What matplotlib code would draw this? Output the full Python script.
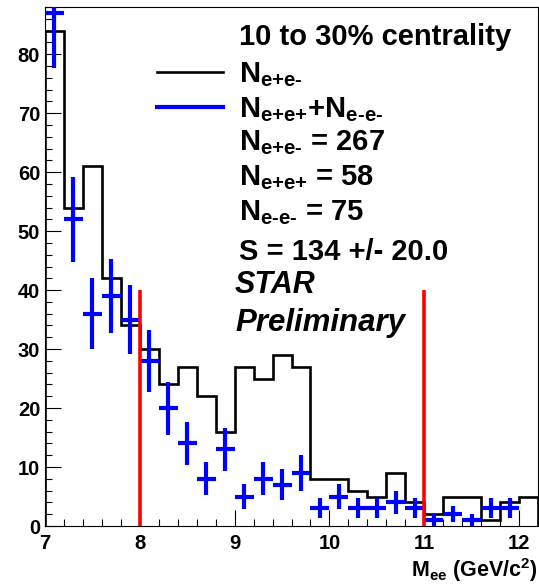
import matplotlib.pyplot as plt
import matplotlib.ticker as ticker
from matplotlib.lines import Line2D
import numpy as np

plt.rcParams['font.family'] = ['Liberation Sans', 'DejaVu Sans']
plt.rcParams['font.weight'] = 'bold'
plt.rcParams['axes.labelweight'] = 'bold'
plt.rcParams['mathtext.fontset'] = 'custom'
plt.rcParams['mathtext.rm'] = 'Liberation Sans:bold'
plt.rcParams['mathtext.bf'] = 'Liberation Sans:bold'
plt.rcParams['mathtext.it'] = 'Liberation Sans:bold:italic'
plt.rcParams['mathtext.default'] = 'rm'

# binning (0.2 GeV bins from 7.0 to 12.2)
bin_edges = np.round(np.arange(7.0, 12.21, 0.2), 1)
bin_centers = (bin_edges[:-1] + bin_edges[1:]) / 2

# unlike-sign pairs N(e+e-)
opp_sign = [84, 54, 61, 42, 34, 30, 24, 27, 22, 16, 27, 25, 29, 27, 8,
            8, 6, 5, 9, 4, 2, 5, 5, 1, 4, 5]
# like-sign pairs N(e+e+) + N(e-e-), last bin empty
like_sign = [87, 52, 36, 39, 35, 28, 20, 14, 8, 13, 5, 8, 7, 9, 3,
             5, 3, 3, 4, 3, 1, 2, 1, 3, 3]
like_err = [9.3, 7.2, 6.0, 6.2, 5.9, 5.3, 4.5, 3.7, 2.8, 3.6, 2.2, 2.8, 2.6, 3.0, 1.7,
            2.2, 1.7, 1.7, 2.0, 1.7, 1.0, 1.4, 1.0, 1.7, 1.7]

# mass window used for the signal count
cut_edges = [8.0, 11.0]
cut_height = 40

header = '10 to 30% centrality'
info_lines = [r'N$_{\text{e+e-}}$ = 267',
              r'N$_{\text{e+e+}}$ = 58',
              r'N$_{\text{e-e-}}$ = 75',
              'S = 134 +/- 20.0']

fig = plt.figure(figsize=(5.39, 5.87), dpi=100)
ax = fig.add_axes([45 / 539, 61 / 587, 493 / 539, 519 / 587])

ax.stairs(opp_sign, bin_edges, color='black', lw=1.9, zorder=2)
n_like = len(like_sign)
ax.errorbar(bin_centers[:n_like], like_sign,
            xerr=(bin_edges[1] - bin_edges[0]) / 2, yerr=like_err,
            fmt='none', ecolor='#0000ff', elinewidth=3, capsize=0, zorder=3)
ax.vlines(cut_edges, 0, cut_height, colors='#ff0000', lw=2.6, zorder=4)

ax.set_xlim(7, 12.2)
ax.set_ylim(0, 88)

ax.xaxis.set_major_locator(ticker.MultipleLocator(1))
ax.xaxis.set_minor_locator(ticker.MultipleLocator(0.2))
ax.yaxis.set_major_locator(ticker.MultipleLocator(10))
ax.yaxis.set_minor_locator(ticker.MultipleLocator(2))
ax.tick_params(which='both', direction='in', top=False, right=False,
               width=0.8, labelsize=14.5)
ax.tick_params(which='major', length=11.5)
ax.tick_params(which='minor', length=5)
ax.tick_params(axis='x', pad=6)
ax.tick_params(axis='y', pad=3.5)
for lab in ax.get_xticklabels() + ax.get_yticklabels():
    lab.set_fontweight('bold')
for sp in ax.spines.values():
    sp.set_linewidth(0.8)

ax.set_xlabel(r'M$_{\text{ee}}$ (GeV/c$^{\text{2}}$)', fontsize=15.5, ha='right',
              fontweight='bold')
ax.xaxis.set_label_coords(1.0, -0.058)

# legend with the two line keys
handles = [Line2D([], [], color='black', lw=1.9),
           Line2D([], [], color='#0000ff', lw=3)]
labels = [r'N$_{\text{e+e-}}$', r'N$_{\text{e+e+}}$+N$_{\text{e-e-}}$']
ax.legend(handles, labels, loc='upper left', bbox_to_anchor=(0.227, 0.897),
          frameon=False, fontsize=21, handlelength=2.26, handletextpad=0.55,
          borderpad=0, borderaxespad=0, labelspacing=0.2)

ax.text(0.3935, 0.9268, header, transform=ax.transAxes, fontsize=21,
        va='baseline', ha='left')
for y, s in zip([0.7245, 0.6570, 0.5896, 0.5125], info_lines):
    ax.text(0.3935, y, s, transform=ax.transAxes, fontsize=21,
            va='baseline', ha='left')
ax.text(0.3854, 0.4489, 'STAR', transform=ax.transAxes, fontsize=22,
        style='italic', va='baseline', ha='left')
ax.text(0.3854, 0.3748, 'Preliminary', transform=ax.transAxes, fontsize=22.5,
        style='italic', va='baseline', ha='left')

fig.savefig('out.png', dpi=100)
